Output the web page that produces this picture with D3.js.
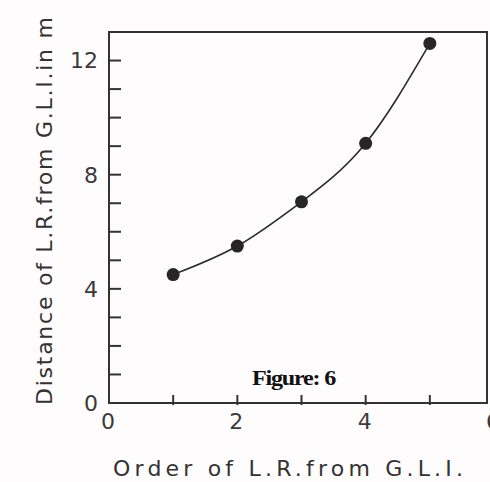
<!DOCTYPE html>
<html>
<head>
<meta charset="utf-8">
<script src="https://cdn.jsdelivr.net/npm/d3@7"></script>
<style>
	body { margin: 0; background: #fefcfc; }
	svg { display: block; }
	.tick-label { font-family: "DejaVu Sans", sans-serif; font-size: 22px; fill: #3a3a3a; }
	.axis-title { font-family: "DejaVu Sans", sans-serif; font-size: 22px; fill: #333; }
</style>
</head>
<body>
<svg id="plot" width="490" height="482" viewBox="0 0 490 482"></svg>
<script>
// data
const orders = [1, 2, 3, 4, 5];
const distances = [4.5, 5.5, 7.05, 9.1, 12.6];
const xTickValues = [0, 1, 2, 3, 4, 5, 6];
const xTickLabels = [0, 2, 4, 6];
const yTickValues = [0, 1, 2, 3, 4, 5, 6, 7, 8, 9, 10, 11, 12, 13];
const yTickLabels = [0, 4, 8, 12];

const svg = d3.select('#plot');

const x = d3.scaleLinear().domain([0, 6]).range([109, 494]);
const y = d3.scaleLinear().domain([0, 13]).range([403, 32]);

const frameRight = 487;
const ink = "#333";

svg.append("rect")
	.attr("width", 490).attr("height", 482)
	.attr("fill", "#fefcfc");

// frame
svg.append("rect")
	.attr("x", x(0))
	.attr("y", y(13))
	.attr("width", frameRight - x(0))
	.attr("height", y(0) - y(13))
	.attr("fill", "none")
	.attr("stroke", ink)
	.attr("stroke-width", 2);

// inward ticks on the y axis
svg.append("g")
	.selectAll("line")
	.data(yTickValues.filter(d => d > 0 && d < 13))
	.enter().append("line")
	.attr("x1", x(0)).attr("x2", x(0) + 12)
	.attr("y1", d => y(d)).attr("y2", d => y(d))
	.attr("stroke", ink).attr("stroke-width", 2);

// inward ticks on the x axis
svg.append("g")
	.selectAll("line")
	.data(xTickValues.filter(d => d > 0 && d < 6))
	.enter().append("line")
	.attr("x1", d => x(d)).attr("x2", d => x(d))
	.attr("y1", y(0) - 8).attr("y2", y(0) + 2)
	.attr("stroke", ink).attr("stroke-width", 2);

svg.append("g")
	.selectAll("text")
	.data(yTickLabels)
	.enter().append("text")
	.attr("class", "tick-label")
	.attr("x", 98)
	.attr("y", d => y(d))
	.attr("dy", "0.36em")
	.attr("text-anchor", "end")
	.text(d => d);

svg.append("g")
	.selectAll("text")
	.data(xTickLabels)
	.enter().append("text")
	.attr("class", "tick-label")
	.attr("x", d => x(d) - 1)
	.attr("y", 429)
	.attr("text-anchor", "middle")
	.text(d => d);

// axis titles
svg.append("text")
	.attr("class", "axis-title")
	.attr("x", 113)
	.attr("y", 476)
	.attr("textLength", 350)
	.attr("lengthAdjust", "spacing")
	.text("Order of L.R.from  G.L.I.");

svg.append("text")
	.attr("class", "axis-title")
	.attr("transform", "translate(52,405) rotate(-90)")
	.attr("textLength", 388)
	.attr("lengthAdjust", "spacing")
	.text("Distance of L.R.from G.L.I.in m");

// curve and points
const line = d3.line()
	.x(d => x(d[0]))
	.y(d => y(d[1]))
	.curve(d3.curveNatural);

const pts = orders.map((o, i) => [o, distances[i]]);

svg.append("path")
	.datum(pts)
	.attr("d", line)
	.attr("fill", "none")
	.attr("stroke", "#2b2b2b")
	.attr("stroke-width", 1.6);

svg.append("g")
	.selectAll("circle")
	.data(pts)
	.enter().append("circle")
	.attr("cx", d => x(d[0]))
	.attr("cy", d => y(d[1]))
	.attr("r", 6.5)
	.attr("fill", "#262626");

svg.append("text")
	.attr("x", 252)
	.attr("y", 385)
	.attr("textLength", 83)
	.attr("lengthAdjust", "spacingAndGlyphs")
	.style("font-family", "'Liberation Serif', serif")
	.style("font-weight", "bold")
	.style("font-size", "20px")
	.style("letter-spacing", "-1px")
	.style("fill", "#111")
	.text("Figure: 6");
</script>
</body>
</html>
